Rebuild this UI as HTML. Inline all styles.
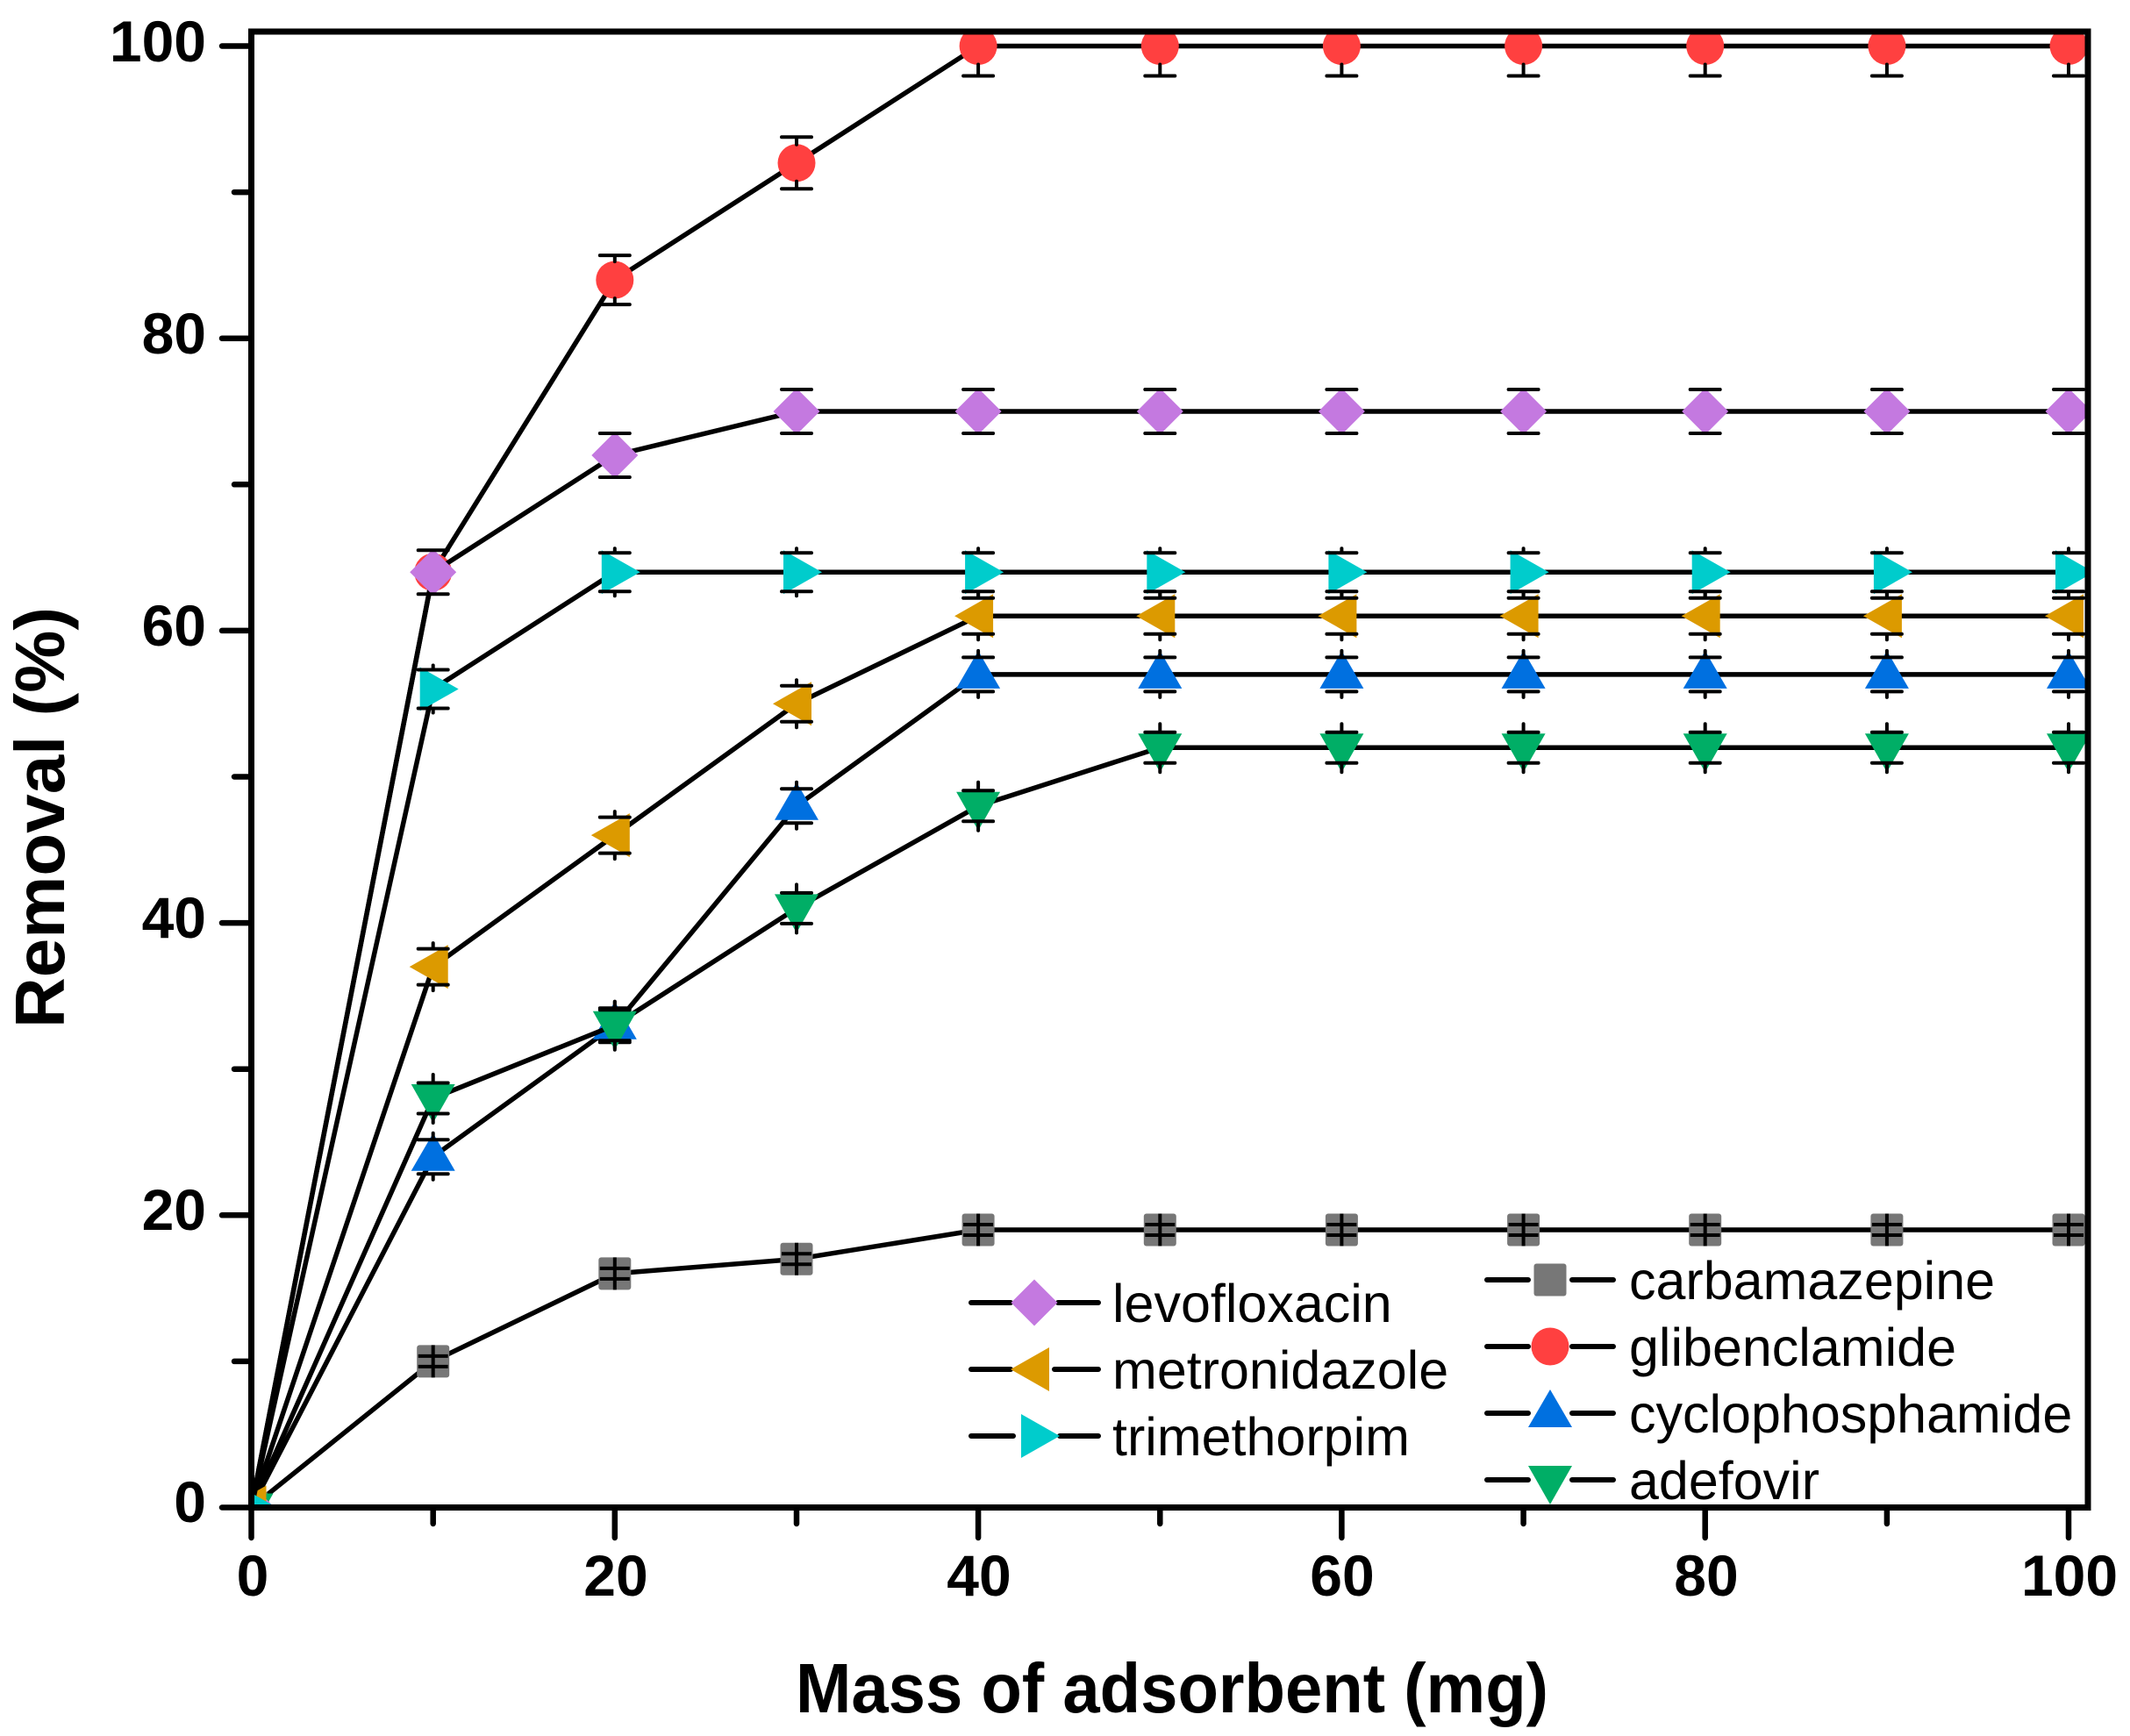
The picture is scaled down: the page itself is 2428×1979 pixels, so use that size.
<!DOCTYPE html>
<html><head><meta charset="utf-8"><style>
html,body{margin:0;padding:0;background:#fff;}
svg{display:block;}
text{font-family:"Liberation Sans",Arial,sans-serif;fill:#000;}
</style></head><body>
<svg width="2428" height="1979" viewBox="0 0 2428 1979" xmlns="http://www.w3.org/2000/svg">
<defs>
<clipPath id="pc"><rect x="286.5" y="36" width="2093.5" height="1682.5"/></clipPath>
<circle id="mr" r="21.5" fill="#ff4040"/>
<polygon id="mp" points="0,-26.5 26.5,0 0,26.5 -26.5,0" fill="#c479e0"/>
<polygon id="mo" points="-27,0 17,-25 17,25" fill="#dc9a00"/>
<polygon id="mc" points="-15,-25 29,0 -15,25" fill="#00cccc"/>
<polygon id="mb" points="0,-27 25,16 -25,16" fill="#0070e0"/>
<polygon id="mn" points="-25,-16 25,-16 0,28" fill="#00ae66"/>
<rect id="mg" x="-18.5" y="-18.5" width="37" height="37" rx="3" fill="#777777"/>
<path id="eg" d="M-17,-6H17M-17,6H17M0,-18.5V18.5" stroke="#000" stroke-width="4" fill="none"/>
<path id="ep" d="M-17,-25H17M-17,25H17" stroke="#000" stroke-width="4" stroke-linecap="round" fill="none"/>
<path id="ec" d="M-17,-22H17M-17,22H17M0,-22V-27M0,22V27" stroke="#000" stroke-width="4" stroke-linecap="round" fill="none"/>
<path id="eo" d="M-17,-20.5H17M-17,20.5H17M0,-20.5V-27M0,20.5V27" stroke="#000" stroke-width="4" stroke-linecap="round" fill="none"/>
<path id="eb" d="M-17,-19.5H17M-17,19.5H17M0,-19.5V-27M0,19.5V26" stroke="#000" stroke-width="4" stroke-linecap="round" fill="none"/>
<path id="en" d="M-17,-17.5H17M-17,17.5H17M0,-17.5V-27M0,17.5V28" stroke="#000" stroke-width="4" stroke-linecap="round" fill="none"/>
<path id="er1" d="M-17,-28H17M-17,28H17M0,-28V-21M0,28V21" stroke="#000" stroke-width="4" stroke-linecap="round" fill="none"/>
<path id="er2" d="M-17,-29.5H17M-17,29.5H17M0,-29.5V-21M0,29.5V21" stroke="#000" stroke-width="4" stroke-linecap="round" fill="none"/>
<path id="er3" d="M-17,-34H17M-17,34H17M0,-34V-21M0,34V21" stroke="#000" stroke-width="4" stroke-linecap="round" fill="none"/>
</defs>

<g clip-path="url(#pc)">
<!-- carbamazepine -->
<polyline points="286.5,1718.5 493.7,1551.9 700.8,1451.9 908,1435.3 1115.1,1402 2358,1402" fill="none" stroke="#000" stroke-width="5.5" stroke-linejoin="round"/>
<use href="#mg" x="286.5" y="1718.5"/><use href="#mg" x="493.7" y="1551.9"/><use href="#mg" x="700.8" y="1451.9"/><use href="#mg" x="908" y="1435.3"/><use href="#mg" x="1115.1" y="1402"/><use href="#mg" x="1322.3" y="1402"/><use href="#mg" x="1529.4" y="1402"/><use href="#mg" x="1736.6" y="1402"/><use href="#mg" x="1943.7" y="1402"/><use href="#mg" x="2150.9" y="1402"/><use href="#mg" x="2358" y="1402"/>
<use href="#eg" x="493.7" y="1551.9"/><use href="#eg" x="700.8" y="1451.9"/><use href="#eg" x="908" y="1435.3"/><use href="#eg" x="1115.1" y="1402"/><use href="#eg" x="1322.3" y="1402"/><use href="#eg" x="1529.4" y="1402"/><use href="#eg" x="1736.6" y="1402"/><use href="#eg" x="1943.7" y="1402"/><use href="#eg" x="2150.9" y="1402"/><use href="#eg" x="2358" y="1402"/>

<!-- glibenclamide -->
<polyline points="286.5,1718.5 493.7,652.3 700.8,319.1 908,185.8 1115.1,52.5 2358,52.5" fill="none" stroke="#000" stroke-width="5.5" stroke-linejoin="round"/>
<use href="#mr" x="286.5" y="1718.5"/><use href="#mr" x="493.7" y="652.3"/><use href="#mr" x="700.8" y="319.1"/><use href="#mr" x="908" y="185.8"/><use href="#mr" x="1115.1" y="52.5"/><use href="#mr" x="1322.3" y="52.5"/><use href="#mr" x="1529.4" y="52.5"/><use href="#mr" x="1736.6" y="52.5"/><use href="#mr" x="1943.7" y="52.5"/><use href="#mr" x="2150.9" y="52.5"/><use href="#mr" x="2358" y="52.5"/>
<use href="#er1" x="700.8" y="319.1"/><use href="#er2" x="908" y="185.8"/><use href="#er3" x="1115.1" y="52.5"/><use href="#er3" x="1322.3" y="52.5"/><use href="#er3" x="1529.4" y="52.5"/><use href="#er3" x="1736.6" y="52.5"/><use href="#er3" x="1943.7" y="52.5"/><use href="#er3" x="2150.9" y="52.5"/><use href="#er3" x="2358" y="52.5"/>

<!-- cyclophosphamide -->
<polyline points="286.5,1718.5 493.7,1318.7 700.8,1168.7 908,918.8 1115.1,768.9 2358,768.9" fill="none" stroke="#000" stroke-width="5.5" stroke-linejoin="round"/>
<use href="#mb" x="286.5" y="1718.5"/><use href="#mb" x="493.7" y="1318.7"/><use href="#mb" x="700.8" y="1168.7"/><use href="#mb" x="908" y="918.8"/><use href="#mb" x="1115.1" y="768.9"/><use href="#mb" x="1322.3" y="768.9"/><use href="#mb" x="1529.4" y="768.9"/><use href="#mb" x="1736.6" y="768.9"/><use href="#mb" x="1943.7" y="768.9"/><use href="#mb" x="2150.9" y="768.9"/><use href="#mb" x="2358" y="768.9"/>
<use href="#eb" x="493.7" y="1318.7"/><use href="#eb" x="700.8" y="1168.7"/><use href="#eb" x="908" y="918.8"/><use href="#eb" x="1115.1" y="768.9"/><use href="#eb" x="1322.3" y="768.9"/><use href="#eb" x="1529.4" y="768.9"/><use href="#eb" x="1736.6" y="768.9"/><use href="#eb" x="1943.7" y="768.9"/><use href="#eb" x="2150.9" y="768.9"/><use href="#eb" x="2358" y="768.9"/>

<!-- adefovir -->
<polyline points="286.5,1718.5 493.7,1252 700.8,1168.7 908,1035.4 1115.1,918.8 1322.3,852.2 2358,852.2" fill="none" stroke="#000" stroke-width="5.5" stroke-linejoin="round"/>
<use href="#mn" x="286.5" y="1718.5"/><use href="#mn" x="493.7" y="1252"/><use href="#mn" x="700.8" y="1168.7"/><use href="#mn" x="908" y="1035.4"/><use href="#mn" x="1115.1" y="918.8"/><use href="#mn" x="1322.3" y="852.2"/><use href="#mn" x="1529.4" y="852.2"/><use href="#mn" x="1736.6" y="852.2"/><use href="#mn" x="1943.7" y="852.2"/><use href="#mn" x="2150.9" y="852.2"/><use href="#mn" x="2358" y="852.2"/>
<use href="#en" x="493.7" y="1252"/><use href="#en" x="700.8" y="1168.7"/><use href="#en" x="908" y="1035.4"/><use href="#en" x="1115.1" y="918.8"/><use href="#en" x="1322.3" y="852.2"/><use href="#en" x="1529.4" y="852.2"/><use href="#en" x="1736.6" y="852.2"/><use href="#en" x="1943.7" y="852.2"/><use href="#en" x="2150.9" y="852.2"/><use href="#en" x="2358" y="852.2"/>

<!-- levofloxacin -->
<polyline points="286.5,1718.5 493.7,652.3 700.8,519 908,469 2358,469" fill="none" stroke="#000" stroke-width="5.5" stroke-linejoin="round"/>
<use href="#mp" x="286.5" y="1718.5"/><use href="#mp" x="493.7" y="652.3"/><use href="#mp" x="700.8" y="519"/><use href="#mp" x="908" y="469"/><use href="#mp" x="1115.1" y="469"/><use href="#mp" x="1322.3" y="469"/><use href="#mp" x="1529.4" y="469"/><use href="#mp" x="1736.6" y="469"/><use href="#mp" x="1943.7" y="469"/><use href="#mp" x="2150.9" y="469"/><use href="#mp" x="2358" y="469"/>
<use href="#ep" x="493.7" y="652.3"/><use href="#ep" x="700.8" y="519"/><use href="#ep" x="908" y="469"/><use href="#ep" x="1115.1" y="469"/><use href="#ep" x="1322.3" y="469"/><use href="#ep" x="1529.4" y="469"/><use href="#ep" x="1736.6" y="469"/><use href="#ep" x="1943.7" y="469"/><use href="#ep" x="2150.9" y="469"/><use href="#ep" x="2358" y="469"/>

<!-- metronidazole -->
<polyline points="286.5,1718.5 493.7,1102.1 700.8,952.1 908,802.2 1115.1,702.2 2358,702.2" fill="none" stroke="#000" stroke-width="5.5" stroke-linejoin="round"/>
<use href="#mo" x="286.5" y="1718.5"/><use href="#mo" x="493.7" y="1102.1"/><use href="#mo" x="700.8" y="952.1"/><use href="#mo" x="908" y="802.2"/><use href="#mo" x="1115.1" y="702.2"/><use href="#mo" x="1322.3" y="702.2"/><use href="#mo" x="1529.4" y="702.2"/><use href="#mo" x="1736.6" y="702.2"/><use href="#mo" x="1943.7" y="702.2"/><use href="#mo" x="2150.9" y="702.2"/><use href="#mo" x="2358" y="702.2"/>
<use href="#eo" x="493.7" y="1102.1"/><use href="#eo" x="700.8" y="952.1"/><use href="#eo" x="908" y="802.2"/><use href="#eo" x="1115.1" y="702.2"/><use href="#eo" x="1322.3" y="702.2"/><use href="#eo" x="1529.4" y="702.2"/><use href="#eo" x="1736.6" y="702.2"/><use href="#eo" x="1943.7" y="702.2"/><use href="#eo" x="2150.9" y="702.2"/><use href="#eo" x="2358" y="702.2"/>

<!-- trimethorpim -->
<polyline points="286.5,1718.5 493.7,785.5 700.8,652.3 2358,652.3" fill="none" stroke="#000" stroke-width="5.5" stroke-linejoin="round"/>
<use href="#mc" x="286.5" y="1718.5"/><use href="#mc" x="493.7" y="785.5"/><use href="#mc" x="700.8" y="652.3"/><use href="#mc" x="908" y="652.3"/><use href="#mc" x="1115.1" y="652.3"/><use href="#mc" x="1322.3" y="652.3"/><use href="#mc" x="1529.4" y="652.3"/><use href="#mc" x="1736.6" y="652.3"/><use href="#mc" x="1943.7" y="652.3"/><use href="#mc" x="2150.9" y="652.3"/><use href="#mc" x="2358" y="652.3"/>
<use href="#ec" x="493.7" y="785.5"/><use href="#ec" x="700.8" y="652.3"/><use href="#ec" x="908" y="652.3"/><use href="#ec" x="1115.1" y="652.3"/><use href="#ec" x="1322.3" y="652.3"/><use href="#ec" x="1529.4" y="652.3"/><use href="#ec" x="1736.6" y="652.3"/><use href="#ec" x="1943.7" y="652.3"/><use href="#ec" x="2150.9" y="652.3"/><use href="#ec" x="2358" y="652.3"/>
</g>

<!-- legend -->
<g stroke="#000" stroke-width="6" stroke-linecap="round" fill="none">
<path d="M1107,1485H1152M1206,1485H1252"/>
<path d="M1107,1561H1152M1202,1561H1252"/>
<path d="M1107,1637H1155M1208,1637H1252"/>
<path d="M1695,1459H1742M1792,1459H1839"/>
<path d="M1695,1535H1742M1792,1535H1839"/>
<path d="M1695,1611H1742M1792,1611H1839"/>
<path d="M1695,1687H1742M1792,1687H1839"/>
</g>
<use href="#mp" x="1179" y="1485"/>
<use href="#mo" x="1179" y="1561"/>
<use href="#mc" x="1179" y="1637"/>
<use href="#mg" x="1767" y="1459"/>
<use href="#mr" x="1767" y="1535"/>
<use href="#mb" x="1767" y="1611"/>
<use href="#mn" x="1767" y="1687"/>
<g font-size="61">
<text x="1268" y="1507">levofloxacin</text>
<text x="1268" y="1583">metronidazole</text>
<text x="1268" y="1659">trimethorpim</text>
<text x="1857" y="1481">carbamazepine</text>
<text x="1857" y="1557">glibenclamide</text>
<text x="1857" y="1633">cyclophosphamide</text>
<text x="1857" y="1709">adefovir</text>
</g>

<!-- frame -->
<rect x="286.5" y="36" width="2093.5" height="1682.5" fill="none" stroke="#000" stroke-width="7"/>

<!-- ticks -->
<g stroke="#000" stroke-width="6.5" stroke-linecap="round" fill="none">
<path d="M253,1718.5H286.5M253,1385.3H286.5M253,1052.1H286.5M253,718.9H286.5M253,385.7H286.5M253,52.5H286.5"/>
<path d="M267,1551.9H286.5M267,1218.7H286.5M267,885.5H286.5M267,552.3H286.5M267,219.1H286.5"/>
<path d="M286.5,1718.5V1753M700.8,1718.5V1753M1115.1,1718.5V1753M1529.4,1718.5V1753M1943.7,1718.5V1753M2358,1718.5V1753"/>
<path d="M493.7,1718.5V1737M908,1718.5V1737M1322.3,1718.5V1737M1736.6,1718.5V1737M2150.9,1718.5V1737"/>
</g>

<!-- tick labels -->
<g font-size="66" font-weight="bold" text-anchor="end">
<text x="235" y="1735">0</text>
<text x="235" y="1402">20</text>
<text x="235" y="1069">40</text>
<text x="235" y="736">60</text>
<text x="235" y="403">80</text>
<text x="235" y="70">100</text>
</g>
<g font-size="66" font-weight="bold" text-anchor="middle">
<text x="288" y="1819">0</text>
<text x="702" y="1819">20</text>
<text x="1116" y="1819">40</text>
<text x="1530" y="1819">60</text>
<text x="1945" y="1819">80</text>
<text x="2359" y="1819">100</text>
</g>

<!-- axis titles -->
<text x="1336" y="1952" font-size="80" font-weight="bold" text-anchor="middle" textLength="858" lengthAdjust="spacingAndGlyphs">Mass of adsorbent (mg)</text>
<text transform="translate(73,932) rotate(-90)" font-size="80" font-weight="bold" text-anchor="middle" textLength="480" lengthAdjust="spacingAndGlyphs">Removal (%)</text>
</svg>
</body></html>
